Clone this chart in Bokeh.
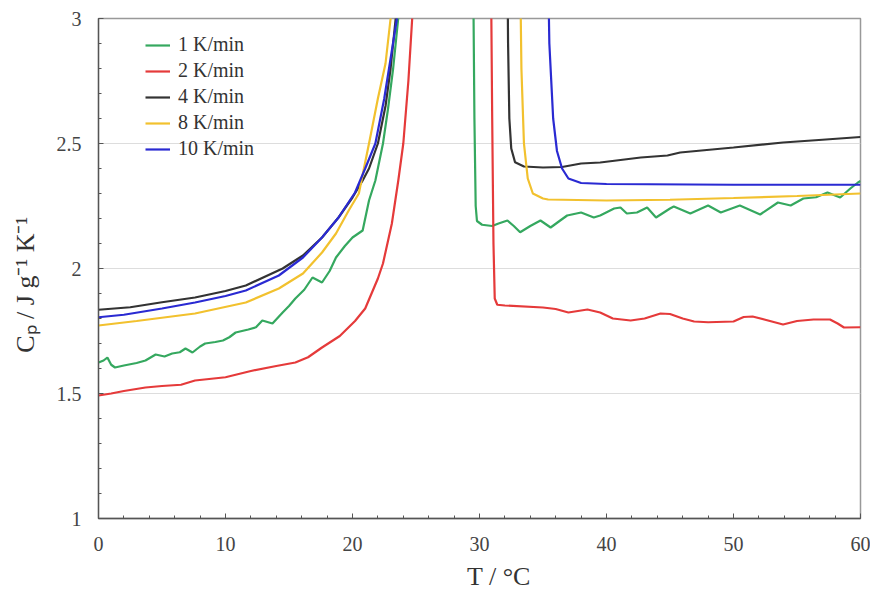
from bokeh.plotting import figure
from bokeh.models import SingleIntervalTicker, CustomJSTickFormatter, Legend, LegendItem
from bokeh.embed import file_html
from bokeh.resources import INLINE

nan = float("nan")

# ---- data (T in °C, Cp in J g-1 K-1); NaN separates heating/cooling branches
labels = ["1 K/min", "2 K/min", "4 K/min", "8 K/min", "10 K/min"]
colors = ["#35a85f", "#e53a3a", "#333333", "#f2c12e", "#2a2ad2"]

T_1 = [0, 0.4, 0.7, 1.0, 1.3, 2.0, 3.0, 3.7, 4.5, 5.2, 5.8, 6.4, 6.85, 7.4, 8.0, 8.4, 9.2, 9.8, 10.3, 10.8, 11.8,
       12.4, 12.9, 13.7, 14.5, 15.0, 15.5, 16.2, 16.85, 17.6, 18.2, 18.7, 19.4, 20.0, 20.8, 21.3, 21.8, 22.4, 22.8,
       23.2, 23.6, 23.9,
       nan,
       29.5, 29.6, 29.7, 29.8, 30.2, 31.0, 31.5, 32.2, 32.7, 33.2, 34.0, 34.8, 35.6, 36.3, 36.9, 38.0, 39.0, 39.5,
       40.6, 41.1, 41.6, 42.4, 43.2, 43.9, 45.0, 45.3, 46.6, 48.0, 49.0, 50.5, 52.1, 53.5, 54.5, 55.5, 56.5, 57.4,
       58.4, 59.2, 59.8, 60.0]
Cp_1 = [1.624, 1.632, 1.644, 1.615, 1.604, 1.612, 1.622, 1.632, 1.656, 1.648, 1.66, 1.665, 1.68, 1.664, 1.688, 1.70,
        1.706, 1.712, 1.725, 1.744, 1.756, 1.765, 1.792, 1.78, 1.824, 1.85, 1.88, 1.915, 1.964, 1.944, 1.99, 2.044,
        2.09, 2.124, 2.152, 2.272, 2.352, 2.5, 2.64, 2.8, 3.0, 3.2,
        nan,
        3.2, 2.6, 2.25, 2.19, 2.175, 2.17, 2.18, 2.192, 2.17, 2.145, 2.17, 2.192, 2.164, 2.19, 2.212, 2.224, 2.204,
        2.212, 2.24, 2.244, 2.22, 2.224, 2.244, 2.204, 2.24, 2.248, 2.22, 2.252, 2.224, 2.252, 2.216, 2.264, 2.252,
        2.28, 2.285, 2.304, 2.284, 2.32, 2.344, 2.35]

T_2 = [0, 1.0, 2.0, 3.7, 5.0, 6.5, 7.6, 10.0, 12.0, 14.0, 15.5, 16.5, 17.6, 19.0, 20.2, 21.0, 21.6, 22.0, 22.4,
       23.1, 23.6, 24.0, 24.4, 24.7, 24.9,
       nan,
       30.9, 31.0, 31.1, 31.2, 31.4, 32.0, 35.0, 36.0, 37.0, 38.5, 39.5, 40.5, 41.9, 43.0, 44.25, 45.0, 46.0, 46.9,
       48.0, 50.0, 50.8, 51.5, 52.5, 53.9, 55.0, 56.3, 57.6, 58.2, 58.7, 60.0]
Cp_2 = [1.492, 1.50, 1.51, 1.524, 1.53, 1.535, 1.552, 1.565, 1.59, 1.61, 1.624, 1.645, 1.684, 1.73, 1.79, 1.84,
        1.912, 1.96, 2.02, 2.18, 2.35, 2.5, 2.75, 3.0, 3.2,
        nan,
        3.2, 2.6, 2.1, 1.88, 1.855, 1.852, 1.844, 1.838, 1.824, 1.836, 1.824, 1.80, 1.792, 1.80, 1.82, 1.818, 1.80,
        1.788, 1.785, 1.788, 1.806, 1.808, 1.795, 1.776, 1.79, 1.796, 1.796, 1.78, 1.764, 1.765]

T_4 = [0, 2.5, 5.0, 7.6, 10.0, 11.6, 14.5, 16.1, 17.6, 18.9, 20.0, 20.8, 21.3, 22.0, 22.6, 23.0, 23.4, 23.7,
       nan,
       32.2, 32.25, 32.35, 32.5, 32.8, 33.5, 35.0, 36.5, 38.0, 39.5, 42.7, 44.8, 45.8, 50.0, 53.9, 57.0, 60.0]
Cp_4 = [1.835, 1.845, 1.865, 1.884, 1.91, 1.932, 2.0, 2.052, 2.124, 2.204, 2.284, 2.352, 2.40, 2.5, 2.65, 2.8,
        3.0, 3.2,
        nan,
        3.2, 2.9, 2.6, 2.48, 2.425, 2.408, 2.404, 2.406, 2.42, 2.424, 2.444, 2.452, 2.464, 2.484, 2.504, 2.515, 2.526]

T_8 = [0, 3.0, 7.6, 11.6, 14.2, 16.1, 17.6, 18.7, 19.7, 20.5, 21.3, 22.0, 22.6, 23.0, 23.3,
       nan,
       33.2, 33.3, 33.5, 33.8, 34.2, 35.0, 35.4, 40.0, 45.0, 50.0, 55.0, 60.0]
Cp_8 = [1.772, 1.79, 1.82, 1.864, 1.92, 1.98, 2.064, 2.14, 2.232, 2.3, 2.5, 2.68, 2.82, 3.0, 3.2,
        nan,
        3.2, 2.8, 2.5, 2.36, 2.3, 2.28, 2.276, 2.272, 2.275, 2.282, 2.29, 2.30]

T_10 = [0, 2.0, 5.0, 7.6, 10.0, 11.6, 14.2, 16.1, 17.6, 18.9, 20.2, 21.0, 21.8, 22.5, 23.0, 23.5, 23.8,
        nan,
        35.4, 35.5, 35.8, 36.1, 36.5, 37.0, 38.0, 40.0, 50.0, 60.0]
Cp_10 = [1.805, 1.815, 1.84, 1.864, 1.89, 1.912, 1.972, 2.044, 2.124, 2.204, 2.304, 2.40, 2.5, 2.68, 2.84, 3.0, 3.2,
         nan,
         3.2, 2.9, 2.6, 2.47, 2.4, 2.36, 2.342, 2.338, 2.335, 2.335]

series_T = [T_1, T_2, T_4, T_8, T_10]
series_Cp = [Cp_1, Cp_2, Cp_4, Cp_8, Cp_10]

FONT = "Liberation Serif"
NB = "\u00a0"

p = figure(width=870, height=600, x_range=(0, 60), y_range=(1, 3),
           output_backend="svg", toolbar_location=None,
           min_border_left=98, min_border_right=10, min_border_top=18, min_border_bottom=82)

renderers = []
for T, Cp, c in zip(series_T, series_Cp, colors):
    r = p.line(T, Cp, line_color=c, line_width=2.2)
    renderers.append(r)

# axes
p.xaxis.ticker = SingleIntervalTicker(interval=10, num_minor_ticks=5)
p.yaxis.ticker = SingleIntervalTicker(interval=0.5, num_minor_ticks=5)
p.yaxis.formatter = CustomJSTickFormatter(code="return tick.toString();")
for ax in (p.xaxis[0], p.yaxis[0]):
    ax.major_tick_in = 5
    ax.major_tick_out = 0
    ax.minor_tick_in = 3
    ax.minor_tick_out = 0
    ax.major_tick_line_color = "#555555"
    ax.minor_tick_line_color = "#555555"
    ax.axis_line_color = "#555555"
    ax.axis_line_width = 1.3
    ax.major_label_text_font = FONT
    ax.major_label_text_font_size = "20px"
    ax.major_label_text_color = "#444444"
    ax.axis_label_text_font = FONT
    ax.axis_label_text_font_size = "26px"
    ax.axis_label_text_color = "#333333"
    ax.axis_label_text_font_style = "normal"

p.xaxis.major_label_standoff = 18
p.yaxis.major_label_standoff = 17
# non-breaking spaces nudge the titles off-centre, as in the reference
p.xaxis.axis_label = NB * 6 + "T / °C"
p.yaxis.axis_label = "Cₚ / J g⁻¹ K⁻¹" + NB * 5
p.xaxis.axis_label_standoff = 8
p.yaxis.axis_label_standoff = 14

p.xgrid.grid_line_color = None
p.ygrid.grid_line_color = "#dddddd"
p.ygrid.grid_line_width = 1.2

p.outline_line_color = "#999999"
p.outline_line_width = 1.5
p.background_fill_color = "white"
p.border_fill_color = "white"

legend = Legend(items=[LegendItem(label=l, renderers=[r]) for l, r in zip(labels, renderers)],
                location=(47, 358), border_line_color=None, background_fill_alpha=0,
                padding=0, margin=0, spacing=3, glyph_width=25, glyph_height=20,
                label_height=20, label_standoff=8,
                label_text_font=FONT, label_text_font_size="20px", label_text_color="#333333")
p.add_layout(legend)

open("out.html", "w").write(file_html(p, INLINE))
